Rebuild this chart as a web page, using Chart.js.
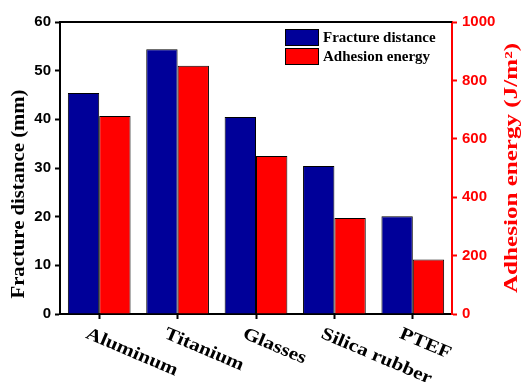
<!DOCTYPE html>
<html>
<head>
<meta charset="utf-8">
<script src="https://cdn.jsdelivr.net/npm/chart.js@4"></script>
<style>
  html, body { margin: 0; padding: 0; background: #fff; }
  #wrap { width: 522px; height: 382px; }
</style>
</head>
<body>
<div id="wrap"><canvas id="chart" width="522" height="382"></canvas></div>
<script>
// data
const materials = ['Aluminum', 'Titanium', 'Glasses', 'Silica rubber', 'PTEF'];
const fractureDistance = [45.4, 54.4, 40.5, 30.4, 20.1];   // mm
const adhesionEnergy = [678, 850, 541, 329, 187];           // J/m^2
const leftTicks = [0, 10, 20, 30, 40, 50, 60];
const rightTicks = [0, 200, 400, 600, 800, 1000];

const BLUE = '#000099';
const RED = '#ff0000';
const SERIF = '"Liberation Serif", "Times New Roman", serif';
const SANS = '"Liberation Sans", Arial, sans-serif';

// text in the original figure is wider than Times, so stretch it along the baseline
function stretchedText(ctx, text, length) {
    const w = ctx.measureText(text).width;
    ctx.scale(length / w, 1);
    ctx.fillText(text, 0, 0);
}

// draws the frame top line, rotated x labels, axis titles and the legend
const decorations = {
    id: 'decorations',
    afterDraw(chart) {
        const ctx = chart.ctx;
        const area = chart.chartArea;
        const x = chart.scales.x;
        ctx.save();

        // top border
        ctx.strokeStyle = '#000';
        ctx.lineWidth = 2;
        ctx.beginPath();
        ctx.moveTo(area.left - 1, area.top);
        ctx.lineTo(area.right, area.top);
        ctx.stroke();

        // rotated category labels
        ctx.fillStyle = '#000';
        ctx.font = 'bold 18px ' + SERIF;
        ctx.textAlign = 'left';
        ctx.textBaseline = 'top';
        materials.forEach((m, i) => {
            const px = x.getPixelForTick(i);
            ctx.save();
            ctx.translate(px - 9, area.bottom + 11);
            ctx.rotate(23 * Math.PI / 180);
            ctx.scale(1.18, 1);
            ctx.fillText(m, 0, 0);
            ctx.restore();
        });

        // left axis title
        ctx.save();
        ctx.translate(19, 194);
        ctx.rotate(-Math.PI / 2);
        ctx.textAlign = 'center';
        ctx.textBaseline = 'middle';
        ctx.font = 'bold 18px ' + SERIF;
        ctx.fillStyle = '#000';
        stretchedText(ctx, 'Fracture distance (mm)', 209);
        ctx.restore();

        // right axis title
        ctx.save();
        ctx.translate(512, 168);
        ctx.rotate(-Math.PI / 2);
        ctx.textAlign = 'center';
        ctx.textBaseline = 'middle';
        ctx.font = 'bold 18px ' + SERIF;
        ctx.fillStyle = RED;
        stretchedText(ctx, 'Adhesion energy (J/m\u00B2)', 250);
        ctx.restore();

        // legend
        const items = [
            { label: 'Fracture distance', color: BLUE },
            { label: 'Adhesion energy', color: RED }
        ];
        ctx.font = 'bold 15px ' + SERIF;
        ctx.textAlign = 'left';
        ctx.textBaseline = 'middle';
        items.forEach((it, i) => {
            const y = 29 + i * 19;
            ctx.fillStyle = it.color;
            ctx.fillRect(285, y, 34, 17);
            ctx.lineWidth = 1;
            ctx.strokeStyle = '#000';
            ctx.strokeRect(285.5, y + 0.5, 33, 16);
            ctx.fillStyle = '#000';
            ctx.fillText(it.label, 323, y + 9);
        });

        ctx.restore();
    }
};

const ctx = document.getElementById('chart').getContext('2d');
new Chart(ctx, {
    type: 'bar',
    data: {
        labels: materials,
        datasets: [{
            label: 'Fracture distance',
            data: fractureDistance,
            yAxisID: 'y',
            backgroundColor: BLUE,
            borderColor: '#000',
            borderWidth: 1,
            categoryPercentage: 0.8,
            barPercentage: 1.0
        }, {
            label: 'Adhesion energy',
            data: adhesionEnergy,
            yAxisID: 'y1',
            backgroundColor: RED,
            borderColor: '#000',
            borderWidth: 1,
            categoryPercentage: 0.8,
            barPercentage: 1.0
        }]
    },
    options: {
        responsive: false,
        animation: false,
        layout: { padding: { top: 22, left: 0, right: 0, bottom: 0 } },
        plugins: {
            legend: { display: false },
            tooltip: { enabled: false }
        },
        scales: {
            x: {
                grid: { offset: false, drawOnChartArea: false, drawTicks: true, tickLength: 5, tickColor: '#000', tickWidth: 2 },
                border: { color: '#000', width: 2 },
                ticks: { display: false },
                afterFit(scale) { scale.height = 68; }
            },
            y: {
                position: 'left',
                min: 0,
                max: 60,
                afterBuildTicks(scale) { scale.ticks = leftTicks.map(v => ({ value: v })); },
                grid: { drawOnChartArea: false, tickLength: 5, tickColor: '#000', tickWidth: 2 },
                border: { color: '#000', width: 2 },
                ticks: { color: '#000', font: { family: SANS, size: 15, weight: 'bold' }, padding: 4,
                         callback: v => String(v) },
                afterFit(scale) { scale.width = 60; }
            },
            y1: {
                position: 'right',
                min: 0,
                max: 1000,
                afterBuildTicks(scale) { scale.ticks = rightTicks.map(v => ({ value: v })); },
                grid: { drawOnChartArea: false, tickLength: 5, tickColor: RED, tickWidth: 2 },
                border: { color: RED, width: 2 },
                ticks: { color: RED, font: { family: SANS, size: 15, weight: 'bold' }, padding: 5,
                         callback: v => String(v) },
                afterFit(scale) { scale.width = 70; }
            }
        }
    },
    plugins: [decorations]
});
</script>
</body>
</html>
